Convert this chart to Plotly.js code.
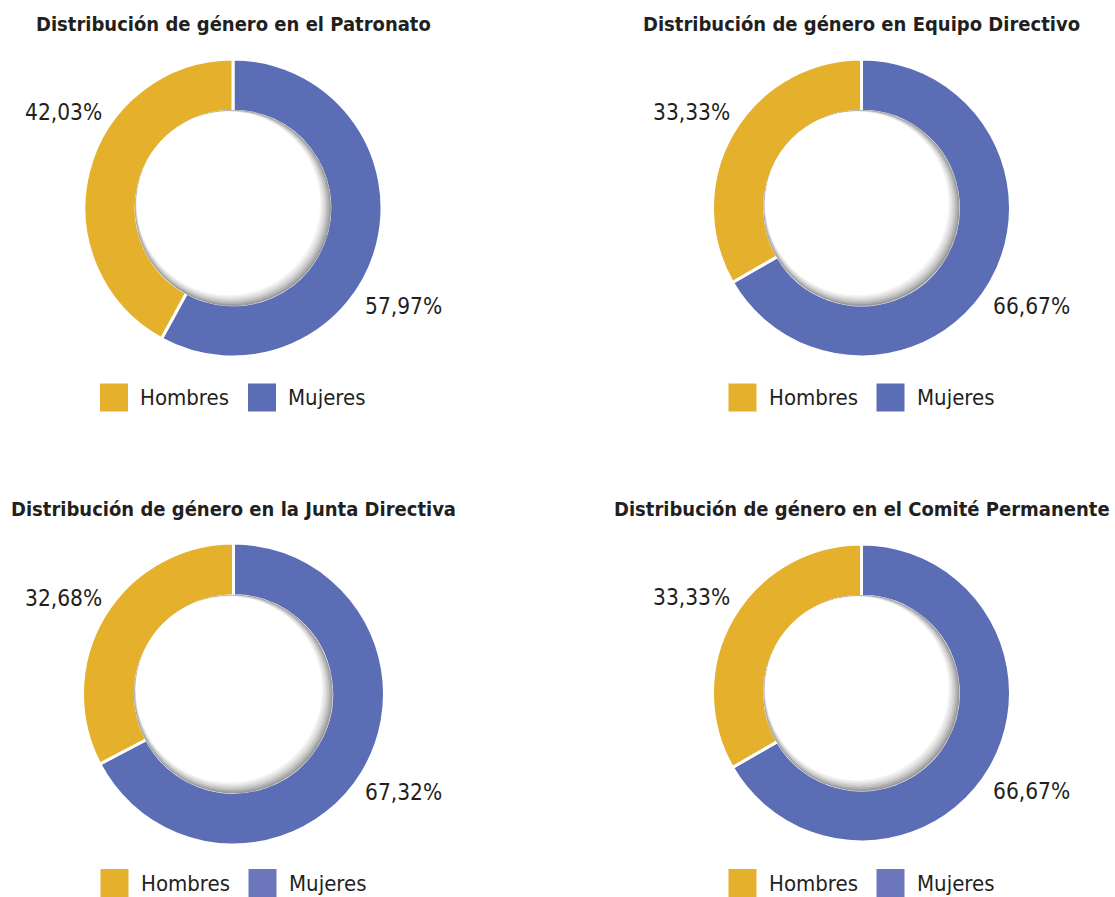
<!DOCTYPE html>
<html>
<head>
<meta charset="utf-8">
<script src="https://cdn.plot.ly/plotly-3.0.1.min.js"></script>
<style>html,body{margin:0;padding:0;background:#fff;}#chart{width:1115px;height:897px;}</style>
</head>
<body>
<div id="chart"></div>
<script>
const chartTitles = [
  'Distribución de género en el Patronato',
  'Distribución de género en Equipo Directivo',
  'Distribución de género en la Junta Directiva',
  'Distribución de género en el Comité Permanente'
];
const categories = ['Hombres', 'Mujeres'];
const hombres = [42.03, 33.33, 32.68, 33.33];
const mujeres = [57.97, 66.67, 67.32, 66.67];
const sliceColors = ['#E5B12C', '#5A6DB5'];
const legendMujeresColors = ['#5A6DB5', '#5A6DB5', '#6B77BA', '#6B77BA'];

const W = 1115, H = 897;
const FONT = '"DejaVu Sans Condensed", "Liberation Sans Narrow", "Roboto", sans-serif';
const TXT = '#231F20';
// layout geometry (pixels)
const centers = [[233, 208, 149], [861.5, 208, 149], [233.5, 694, 151], [861.5, 693, 149]];
const titleY = [24, 24, 509, 509];
const legendY = [397.5, 397.5, 883, 883];
const holeFrac = 0.65;

const fmt = v => v.toFixed(2).replace('.', ',') + '%';
const px = x => x / W;
const py = y => 1 - y / H;

const data = [];
const annotations = [];
const shapes = [];

centers.forEach(([cx, cy, r], i) => {
  // Mujeres first, going clockwise from 12 o'clock; Hombres fills the left side
  data.push({
    type: 'pie',
    labels: [categories[1], categories[0]],
    values: [mujeres[i], hombres[i]],
    sort: false,
    direction: 'clockwise',
    rotation: 0,
    hole: holeFrac,
    textinfo: 'none',
    hoverinfo: 'label+percent',
    showlegend: false,
    marker: {colors: [sliceColors[1], sliceColors[0]], line: {color: '#ffffff', width: 3}},
    domain: {x: [px(cx - r), px(cx + r)], y: [py(cy + r), py(cy - r)]}
  });
  // title
  annotations.push({
    xref: 'paper', yref: 'paper', x: px(cx), y: py(titleY[i]),
    xanchor: 'center', yanchor: 'middle', showarrow: false,
    text: '<b>' + chartTitles[i] + '</b>',
    font: {family: FONT, size: 20, color: TXT}
  });
  // percentage labels
  const vals = [hombres[i], mujeres[i]];
  const offs = [[-170, -96], [170, 98]];
  vals.forEach((v, k) => {
    annotations.push({
      xref: 'paper', yref: 'paper', x: px(cx + offs[k][0]), y: py(cy + offs[k][1]),
      xanchor: 'center', yanchor: 'middle', showarrow: false,
      text: fmt(v), font: {family: FONT, size: 22.5, color: TXT}
    });
  });
  // inner shadow of hole (light from top-left)
  const hr = r * holeFrac + 1.2;
  const shade = ['#9c9c9c', '#b2b2b2', '#c7c7c7', '#d9d9d9', '#e8e8e8', '#f4f4f4', '#ffffff'];
  shade.forEach((col, j) => {
    const diag = j * 1.1;
    const o = diag / Math.SQRT2;
    const rr = hr - diag + (j === shade.length - 1 ? 0.4 : 0);
    shapes.push({
      type: 'circle', xref: 'paper', yref: 'paper',
      xsizemode: 'pixel', ysizemode: 'pixel',
      xanchor: px(cx), yanchor: py(cy),
      x0: -rr - o, x1: rr - o, y0: -rr + o, y1: rr + o,
      fillcolor: col, line: {width: 0}, layer: 'above'
    });
  });
  // legend
  const legendX = [cx - 133, cx + 15];
  const legCols = [sliceColors[0], legendMujeresColors[i]];
  categories.forEach((c, k) => {
    const lx = legendX[k];
    shapes.push({
      type: 'rect', xref: 'paper', yref: 'paper',
      xsizemode: 'pixel', ysizemode: 'pixel',
      xanchor: px(lx), yanchor: py(legendY[i]),
      x0: 0, x1: 28, y0: -14, y1: 14,
      fillcolor: legCols[k], line: {width: 0}
    });
    annotations.push({
      xref: 'paper', yref: 'paper', x: px(lx + 38), y: py(legendY[i]),
      xanchor: 'left', yanchor: 'middle', showarrow: false,
      text: c, font: {family: FONT, size: 22, color: TXT}
    });
  });
});

const layout = {
  width: W, height: H,
  margin: {l: 0, r: 0, t: 0, b: 0},
  paper_bgcolor: '#ffffff',
  showlegend: false,
  annotations: annotations,
  shapes: shapes
};
Plotly.newPlot('chart', data, layout, {displayModeBar: false, staticPlot: true});
</script>
</body>
</html>
